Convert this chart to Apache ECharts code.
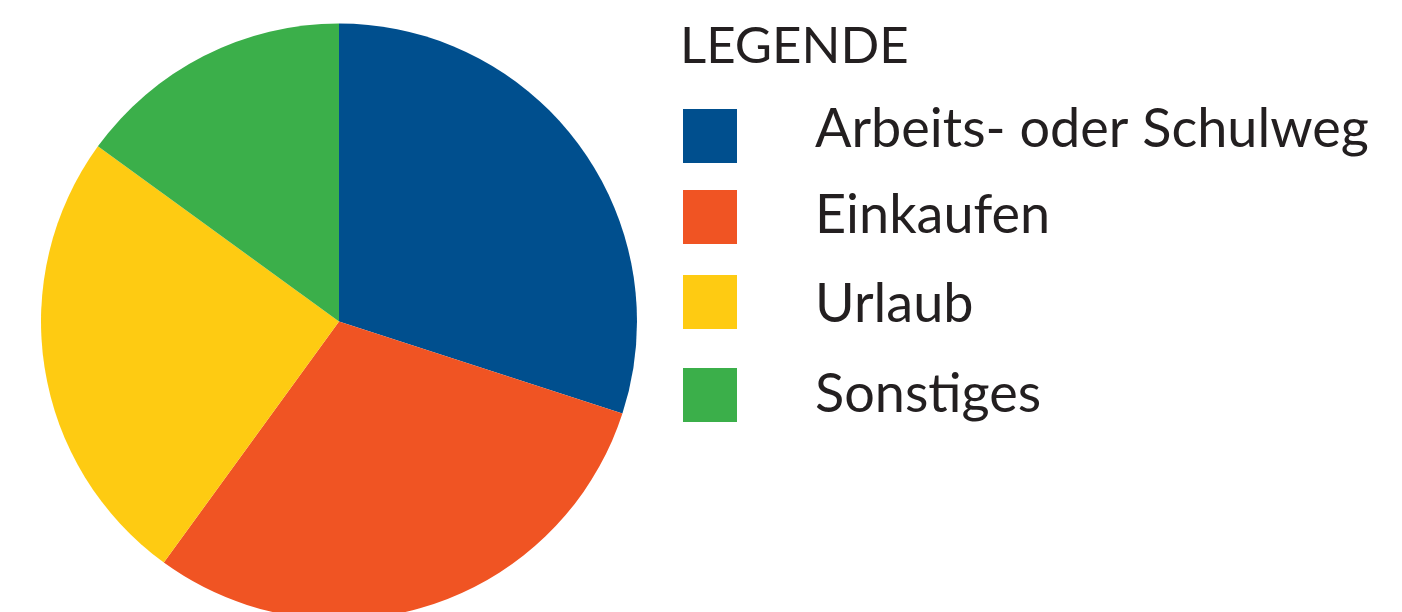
<!DOCTYPE html>
<html><head><meta charset="utf-8">
<script src="https://cdn.jsdelivr.net/npm/echarts@6/dist/echarts.min.js"></script>
<style>html,body{margin:0;padding:0;background:#fff}#c{width:1402px;height:612px}</style>
</head><body><div id="c"></div>
<script>
const categories = ['Arbeits- oder Schulweg', 'Einkaufen', 'Urlaub', 'Sonstiges'];
const values = [30, 30, 25, 15];
const colors = ['#004F8E', '#F05423', '#FECB12', '#3BAF4A'];
const legendTitle = 'LEGENDE';
const legendTops = [103, 189, 275, 368];
const textPads = [[0, 0, 12, 73], [0, 0, 2, 73], [6, 0, 0, 73], [0, 0, 0, 73]];

const FONT = 'Lato';
const FS = 54;
const chart = echarts.init(document.getElementById('c'), null, {renderer: 'canvas'});
chart.setOption({
  animation: false,
  color: colors,
  title: {
    text: legendTitle, left: 675, top: 16, padding: 5,
    textStyle: {fontFamily: FONT, fontSize: 51, fontWeight: 'normal', color: '#231F20'}
  },
  legend: categories.map((n, i) => ({
    data: [n], left: 683, top: legendTops[i], orient: 'vertical', padding: 0,
    itemWidth: 54, itemHeight: 54, icon: 'rect', selectedMode: false,
    formatter: '{t|{name}}',
    textStyle: {
      fontFamily: FONT, fontSize: FS, color: '#231F20',
      rich: {t: {fontFamily: FONT, fontSize: FS, color: '#231F20', padding: textPads[i]}}
    }
  })),
  series: [{
    type: 'pie', center: [339, 321.5], radius: 298, startAngle: 90, clockwise: true,
    label: {show: false}, labelLine: {show: false}, silent: true,
    itemStyle: {borderWidth: 0},
    data: categories.map((n, i) => ({name: n, value: values[i]}))
  }]
});
</script></body></html>
